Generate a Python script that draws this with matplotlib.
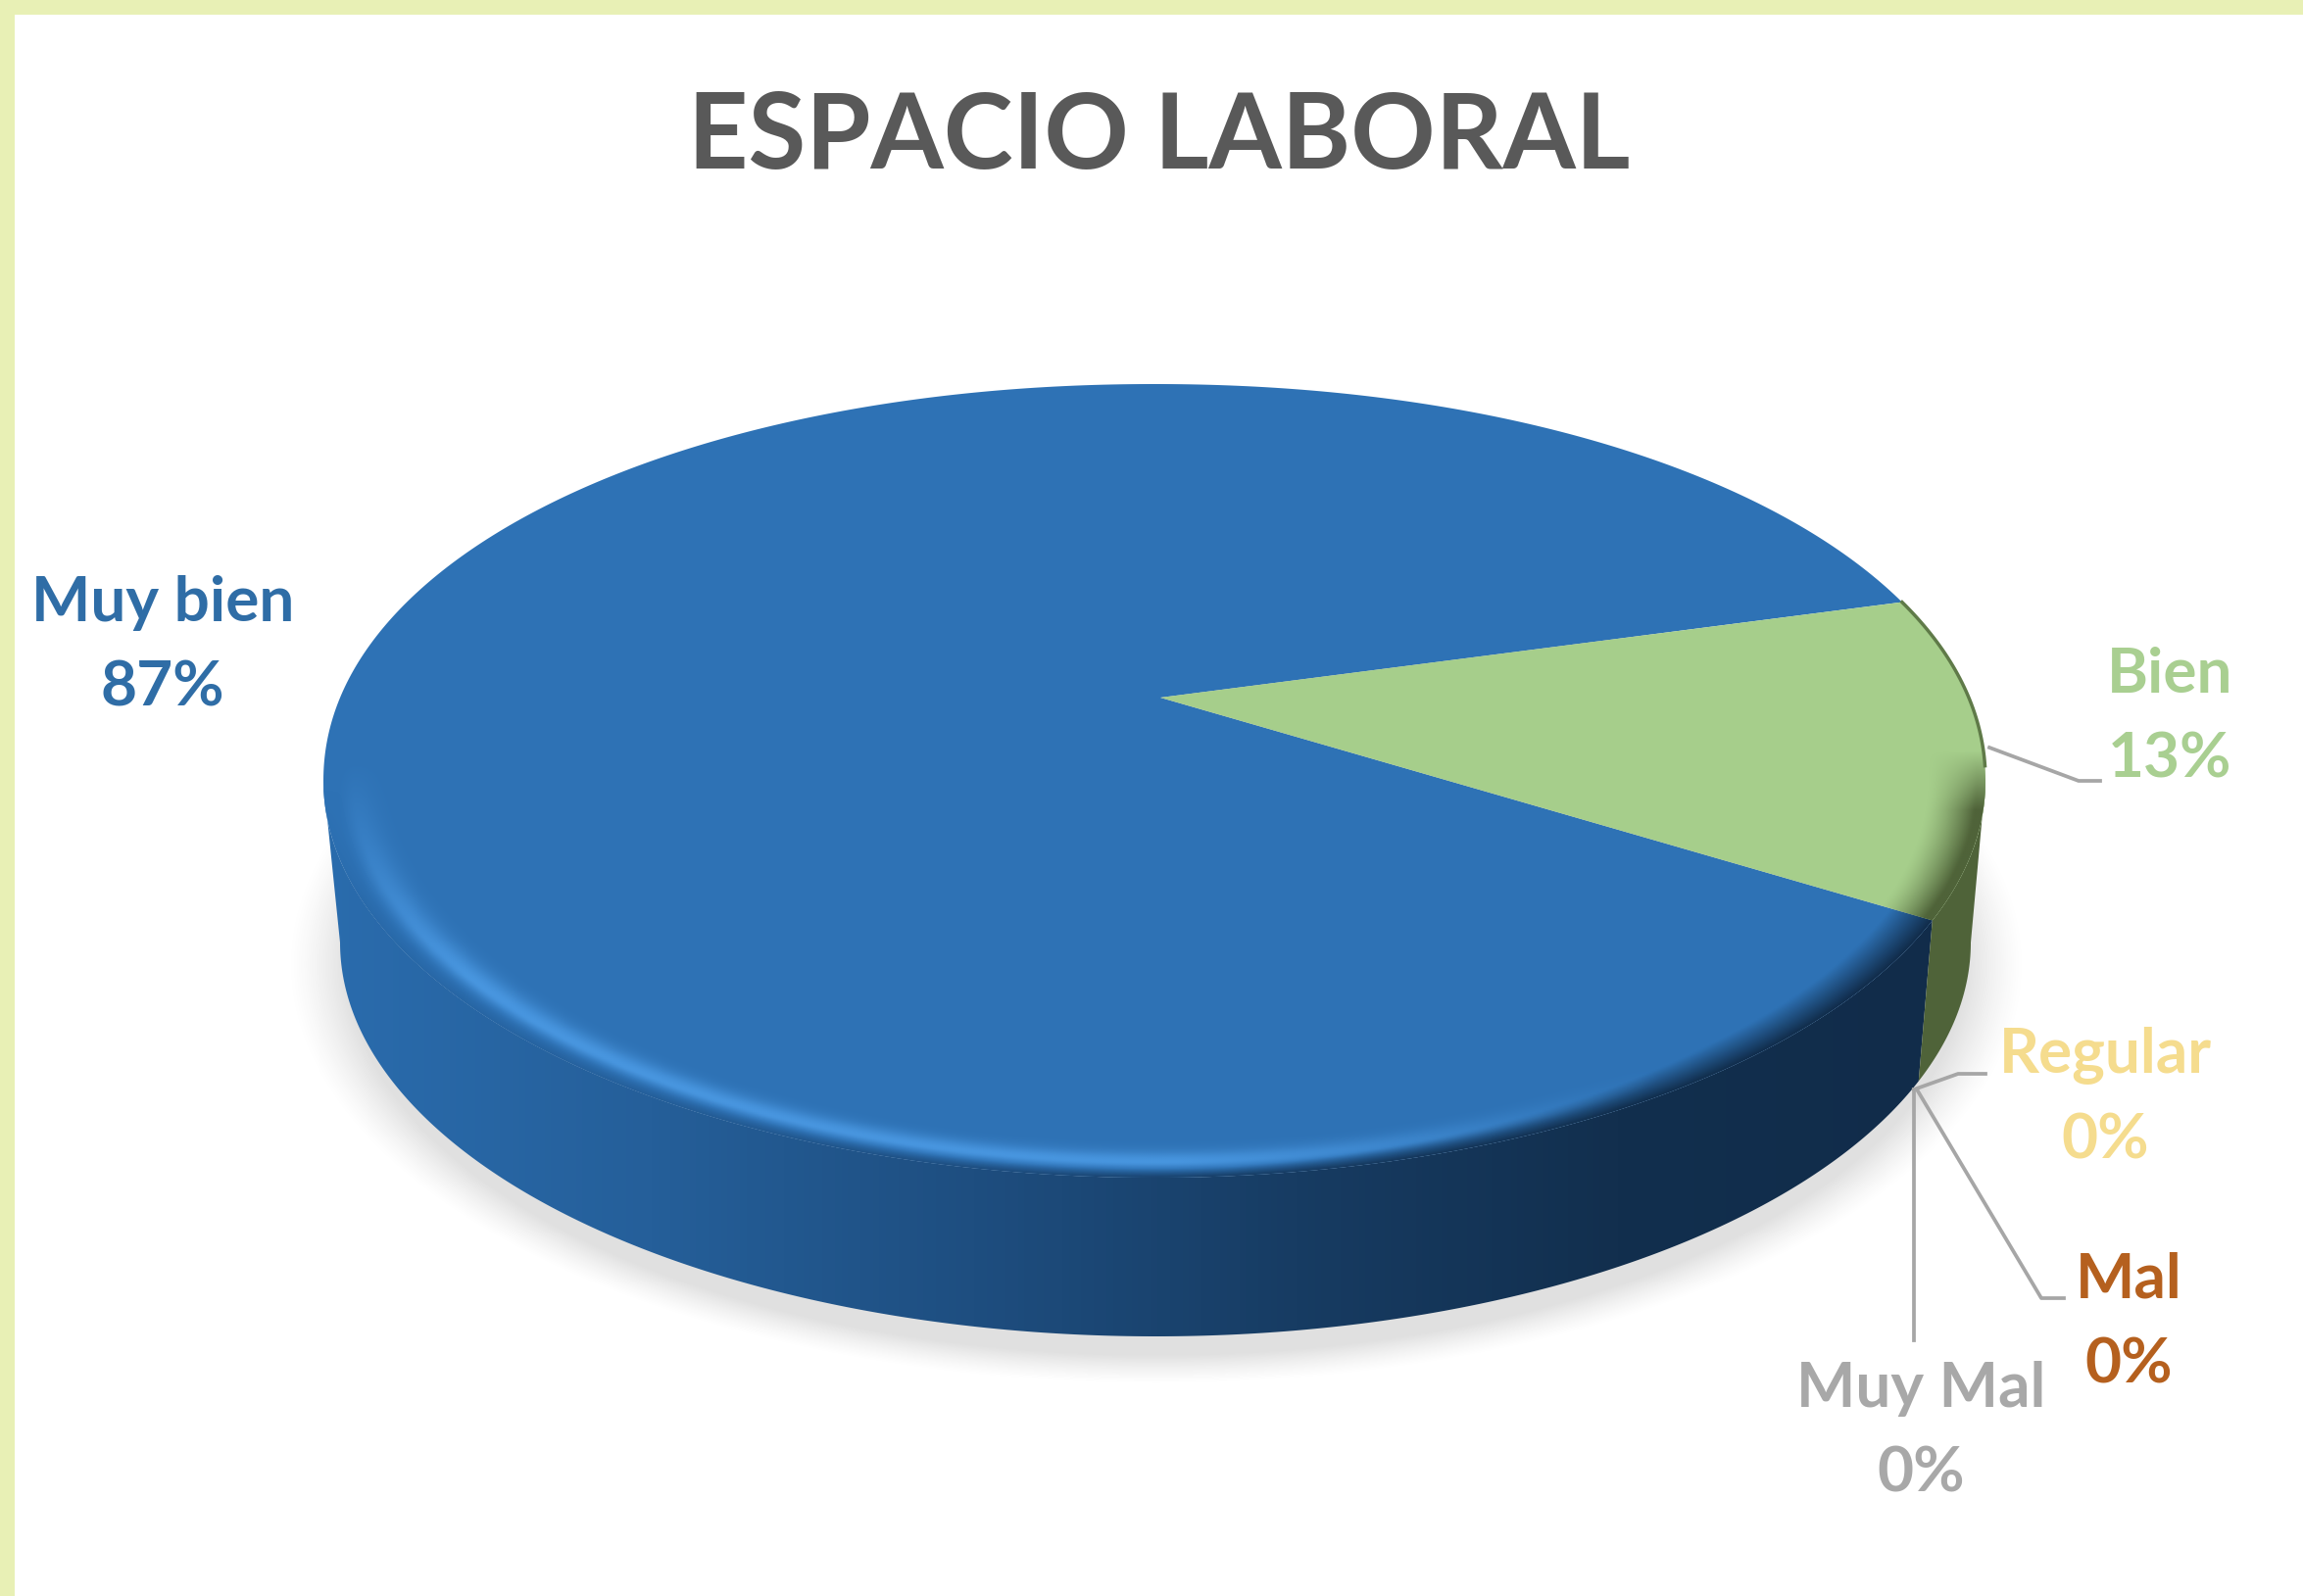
import numpy as np
import matplotlib
matplotlib.use("Agg")
import matplotlib.pyplot as plt
from matplotlib.colors import LinearSegmentedColormap, to_rgb
from matplotlib.patches import Polygon, Rectangle

# data
categories = ["Muy bien", "Bien", "Regular", "Mal", "Muy Mal"]
percent = [87, 13, 0, 0, 0]
title = "ESPACIO LABORAL"

# colours
top_cols = ["#2E72B5", "#A6CE8B"]
text_cols = ["#2F6DA6", "#A9CF91", "#F5DC8E", "#B5601E", "#A8A8A8"]
frame_col = "#E8F0B5"

W, H = 2350, 1629
fig = plt.figure(figsize=(W / 100, H / 100), dpi=100)
ax = fig.add_axes([0, 0, 1, 1])
ax.set_xlim(0, W)
ax.set_ylim(H, 0)
ax.axis("off")
ax.add_patch(Rectangle((0, 0), W, H, fc=frame_col, ec="none", zorder=0))
ax.add_patch(Rectangle((15, 15), W, H, fc="white", ec="none", zorder=0.5))

# pie shape, in pixels of the picture
cx, cy, a, b = 1178, 797, 848, 405      # top ellipse
cx2, cy2, a2, b2 = 1179, 962, 832, 402  # bottom ellipse
apex = (1184, 712)                      # perspective moves the centre point
end_angle = -20.6                       # where the slices close up
n_back = 2.05                           # back half of the top is a bit fuller


def top_pt(t):
    t = np.radians(t)
    c, s = np.cos(t), np.sin(t)
    e = np.where(s > 0, 2 / n_back, 1.0)
    return np.column_stack([cx + a * np.sign(c) * np.abs(c) ** e,
                            cy - b * np.sign(s) * np.abs(s) ** e])


def bot_pt(t):
    t = np.radians(t)
    return np.column_stack([cx2 + a2 * np.cos(t), cy2 - b2 * np.sin(t)])


# slice angles come from the values
bien_start = end_angle + percent[1] * 3.6
muy_end = bien_start + percent[0] * 3.6
t_muy = np.linspace(bien_start, muy_end, 500)
t_bien = np.linspace(end_angle, bien_start, 100)

xx, yy = np.meshgrid(np.arange(0, W, 2) + 1.0, np.arange(0, H, 2) + 1.0)
ext = (0, W, H, 0)

# shadow under the disc
r_sh = np.sqrt(((xx - 1180) / 868) ** 2 + ((yy - 985) / 420) ** 2)
sh = np.zeros(xx.shape + (4,))
sh[..., :3] = 0.55
sh[..., 3] = np.clip((1.02 - r_sh) / 0.07, 0, 1) ** 1.3 * 0.27
ax.imshow(sh, extent=ext, zorder=1, aspect="auto", interpolation="bilinear")

# side wall, blue part
side_cm = LinearSegmentedColormap.from_list(
    "side", ["#2A6CAD", "#255F9A", "#1E4E80", "#173C63", "#122F4E", "#112C4A"])
t_side = np.linspace(180, 360 + end_angle, 300)
side_blue = Polygon(np.vstack([top_pt(t_side), bot_pt(t_side[::-1])]), fc="none", ec="none", zorder=2)
ax.add_patch(side_blue)
grad = np.tile(np.linspace(0, 1, 512), (2, 1))
im = ax.imshow(grad, extent=(330, 1980, H, 0), cmap=side_cm, aspect="auto", zorder=2)
im.set_clip_path(side_blue)

# side wall, green part
t_side2 = np.linspace(end_angle, 0, 60)
ax.add_patch(Polygon(np.vstack([top_pt(t_side2), bot_pt(t_side2[::-1])]), fc="#4F6339", ec="none", zorder=2))

# top of the disc
p_muy = Polygon(np.vstack([[apex], top_pt(t_muy)]), fc=top_cols[0], ec="none", zorder=3)
p_bien = Polygon(np.vstack([[apex], top_pt(t_bien)]), fc=top_cols[1], ec="none", zorder=3)
ax.add_patch(p_muy)
ax.add_patch(p_bien)

# rim of the top: soft edge into the wall, then the light band
r = np.sqrt(((xx - cx) / a) ** 2 + ((yy - cy) / b) ** 2)
r0 = 0.978 - 0.035 * np.clip((xx - 1250) / 500, 0, 1)
soft = np.clip((r - r0) / (1 - r0), 0, 1) * np.clip((yy - cy - 10) / 120, 0, 1)
lo = side_cm(np.clip((xx - 330) / 1650, 0, 1))
lo[..., 3] = soft
im = ax.imshow(lo, extent=ext, zorder=4, aspect="auto", interpolation="bilinear")
im.set_clip_path(p_muy)

lower = np.clip((yy - cy + 20) / 220, 0, 1)
fade = np.clip((1700 - xx) / 500, 0, 1)
d = r - 0.962
glow = np.exp(-(d / np.where(d < 0, 0.026, 0.014)) ** 2) * lower * fade * 0.8
hi = np.zeros(xx.shape + (4,))
hi[..., :3] = to_rgb("#4F9FEA")
hi[..., 3] = glow
im = ax.imshow(hi, extent=ext, zorder=4.5, aspect="auto", interpolation="bilinear")
im.set_clip_path(p_muy)

dark2 = np.clip((r - 0.93) / 0.06, 0, 1) ** 1.4 * np.clip((yy - cy + 30) / 60, 0, 1)
lo2 = np.zeros(xx.shape + (4,))
lo2[..., :3] = to_rgb("#4F6339")
lo2[..., 3] = dark2
im = ax.imshow(lo2, extent=ext, zorder=4, aspect="auto", interpolation="bilinear")
im.set_clip_path(p_bien)
ax.plot(*top_pt(np.linspace(2, bien_start, 40)).T, color="#5F7A48", lw=2.5, zorder=5)

# leader lines
leaders = [
    [(2030, 763), (2121, 797), (2143, 797)],
    [(1953, 1112), (1998, 1096), (2026, 1096)],
    [(1956, 1112), (2083, 1325), (2106, 1325)],
    [(1953, 1112), (1953, 1368)],
]
for pts in leaders:
    xs, ys = zip(*pts)
    ax.plot(xs, ys, color="#A6A6A6", lw=2.7, zorder=6, solid_joinstyle="round")

# labels
label_xy = [(166, 615), (2214, 688), (2148, 1077), (2172, 1306), (1960, 1417)]
for cat, val, col, (x, y) in zip(categories, percent, text_cols, label_xy):
    ax.text(x, y, cat, color=col, fontsize=46, fontweight="bold", family="Lato",
            ha="center", va="center", zorder=7)
    ax.text(x, y + 87, f"{val}%", color=col, fontsize=46, fontweight="bold", family="Lato",
            ha="center", va="center", zorder=7)

ax.text(1183, 141, title, color="#595959", fontsize=77, fontweight="bold", family="Lato",
        ha="center", va="center", zorder=7)

fig.savefig("out.png", dpi=100)
